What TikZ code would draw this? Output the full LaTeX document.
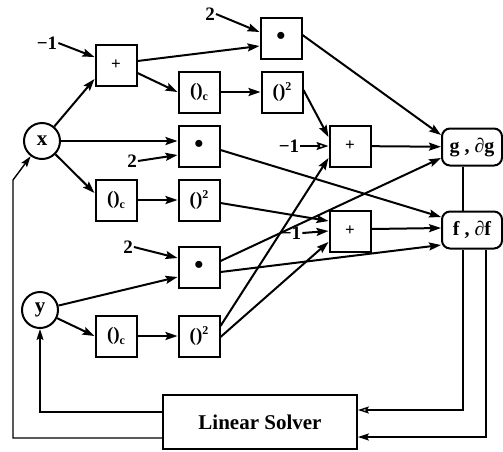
\documentclass[tikz,border=0pt]{standalone}
\usepackage{fontspec}
\setmainfont{Liberation Serif}
\usetikzlibrary{arrows.meta,calc}
\newcommand{\subc}{\raisebox{-4pt}{\fontsize{12}{12}\selectfont c}}
\newcommand{\supt}{\raisebox{7pt}{\fontsize{12}{12}\selectfont 2}}
\begin{document}
\begin{tikzpicture}[x=1pt,y=-1pt,
  op/.style={draw, line width=2pt, minimum width=41pt, minimum height=41pt, inner sep=0pt, font=\bfseries\fontsize{19}{19}\selectfont},
  var/.style={draw, circle, line width=2pt, minimum size=36pt, inner sep=0pt, font=\bfseries\fontsize{21}{21}\selectfont},
  fun/.style={draw, rounded corners=8pt, line width=2pt, minimum width=60pt, minimum height=37pt, inner sep=0pt, font=\bfseries\fontsize{20}{20}\selectfont},
  cst/.style={font=\bfseries\fontsize{19}{19}\selectfont, inner sep=1pt},
  arr/.style={line width=2pt, -{Stealth[length=12pt,width=8pt,inset=2pt]}},
  oarr/.style={line width=1.6pt, -{Stealth[open,length=12pt,width=8pt,inset=2pt]}},
  fb/.style={line width=1.4pt, -{Stealth[length=11pt,width=7pt,inset=2pt]}},
  ofb/.style={line width=1.4pt, -{Stealth[open,length=11pt,width=7pt,inset=2pt]}},
  ln/.style={line width=1.2pt},
  plus/.style={font=\bfseries\fontsize{17}{17}\selectfont},
  dot/.style={font=\bfseries\fontsize{26}{26}\selectfont},
]
\useasboundingbox (0,0) rectangle (503,451);
% variables
\node[var] (x) at (42,141) {x};
\node[var] (y) at (40,310) {y};
% operator boxes
\node[op, plus] (p1) at (116,65) {+};
\node[op, dot] (m1) at (281,38) {•};
\node[op] (c1) at (199,92) {()\subc};
\node[op] (s1) at (282,92) {()\supt};
\node[op, dot] (m2) at (199,146) {•};
\node[op] (c2) at (116,200) {()\subc};
\node[op] (s2) at (199,200) {()\supt};
\node[op, plus] (p2) at (350,146) {+};
\node[op, plus] (p3) at (350,231) {+};
\node[op, dot] (m3) at (199,267) {•};
\node[op] (c3) at (116,336) {()\subc};
\node[op] (s3) at (199,336) {()\supt};
% functions
\node[fun] (g) at (472,147) {g , ∂g};
\node[fun] (f) at (472,230) {f , ∂f};
\node[draw, line width=1.8pt, minimum width=194pt, minimum height=54pt, font=\bfseries\fontsize{21}{21}\selectfont] (ls) at (260,422) {Linear Solver};
% constants
\node[cst] (k1) at (47,43) {−1};
\node[cst] (k2) at (210,14) {2};
\node[cst] (k3) at (132,161) {2};
\node[cst] (k4) at (289,146) {−1};
\node[cst] (k5) at (291,233) {−1};
\node[cst] (k6) at (128,247) {2};
\coordinate (xc) at (13,180);
% connectors
\draw[arr] (k1.east) -- ($(p1.west)+(0,-8)$);
\draw[arr] (x) -- ($(p1.west)+(0,14)$);
\draw[arr] ($(p1.east)+(0,-4)$) -- ($(m1.west)+(0,8)$);
\draw[arr] (k2.east) -- ($(m1.west)+(0,-6)$);
\draw[arr] ($(p1.east)+(0,8)$) -- (c1.west);
\draw[arr] (c1) -- (s1);
\draw[arr] ($(s1.east)+(0,-2)$) -- ($(p2.west)+(0,-9)$);
\draw[oarr] (k4.east) -- (p2.west);
\draw[arr] (p2) -- (g);
\draw[arr] ($(m1.east)+(0,-3)$) -- ($(g.west)+(0,-12)$);
\draw[arr] (x.east) -- ($(m2.west)+(0,-5)$);
\draw[arr] (k3.east) -- ($(m2.west)+(0,9)$);
\draw[arr] ($(m2.east)+(0,4)$) -- ($(f.west)+(0,-13)$);
\draw[arr] (x) -- ($(c2.west)+(0,-7)$);
\draw[arr] (c2) -- (s2);
\draw[arr] ($(s2.east)+(0,3)$) -- ($(p3.west)+(0,-10)$);
\draw[arr] (k5.east) -- (p3.west);
\draw[arr] ($(p3.east)+(0,-2)$) -- ($(f.west)+(0,-2)$);
\draw[arr] ($(m3.east)+(0,-6)$) -- ($(g.west)+(0,11)$);
\draw[arr] ($(m3.east)+(0,5)$) -- ($(f.west)+(0,15)$);
\draw[arr] (k6.east) -- ($(m3.west)+(0,-9)$);
\draw[arr] (y) -- ($(m3.west)+(0,10)$);
\draw[arr] (y) -- (c3.west);
\draw[arr] (c3) -- (s3);
\draw[arr] ($(s3.east)+(0,-10)$) -- ($(p2.west)+(0,12)$);
\draw[arr] ($(s3.east)+(0,1)$) -- ($(p3.west)+(0,11)$);
% g - f link and feedback
\draw[ln] ($(g.south)+(-9,0)$) -- ($(f.north)+(-9,0)$);
\draw[ofb] ($(f.south)+(-9,0)$) |- ($(ls.east)+(0,-12)$);
\draw[fb] ($(f.south)+(14,0)$) |- ($(ls.east)+(0,15)$);
\draw[fb] ($(ls.west)+(0,-10)$) -| (y.south);
\draw[fb] ($(ls.west)+(0,16)$) -| (xc) -- (x);
\end{tikzpicture}
\end{document}
